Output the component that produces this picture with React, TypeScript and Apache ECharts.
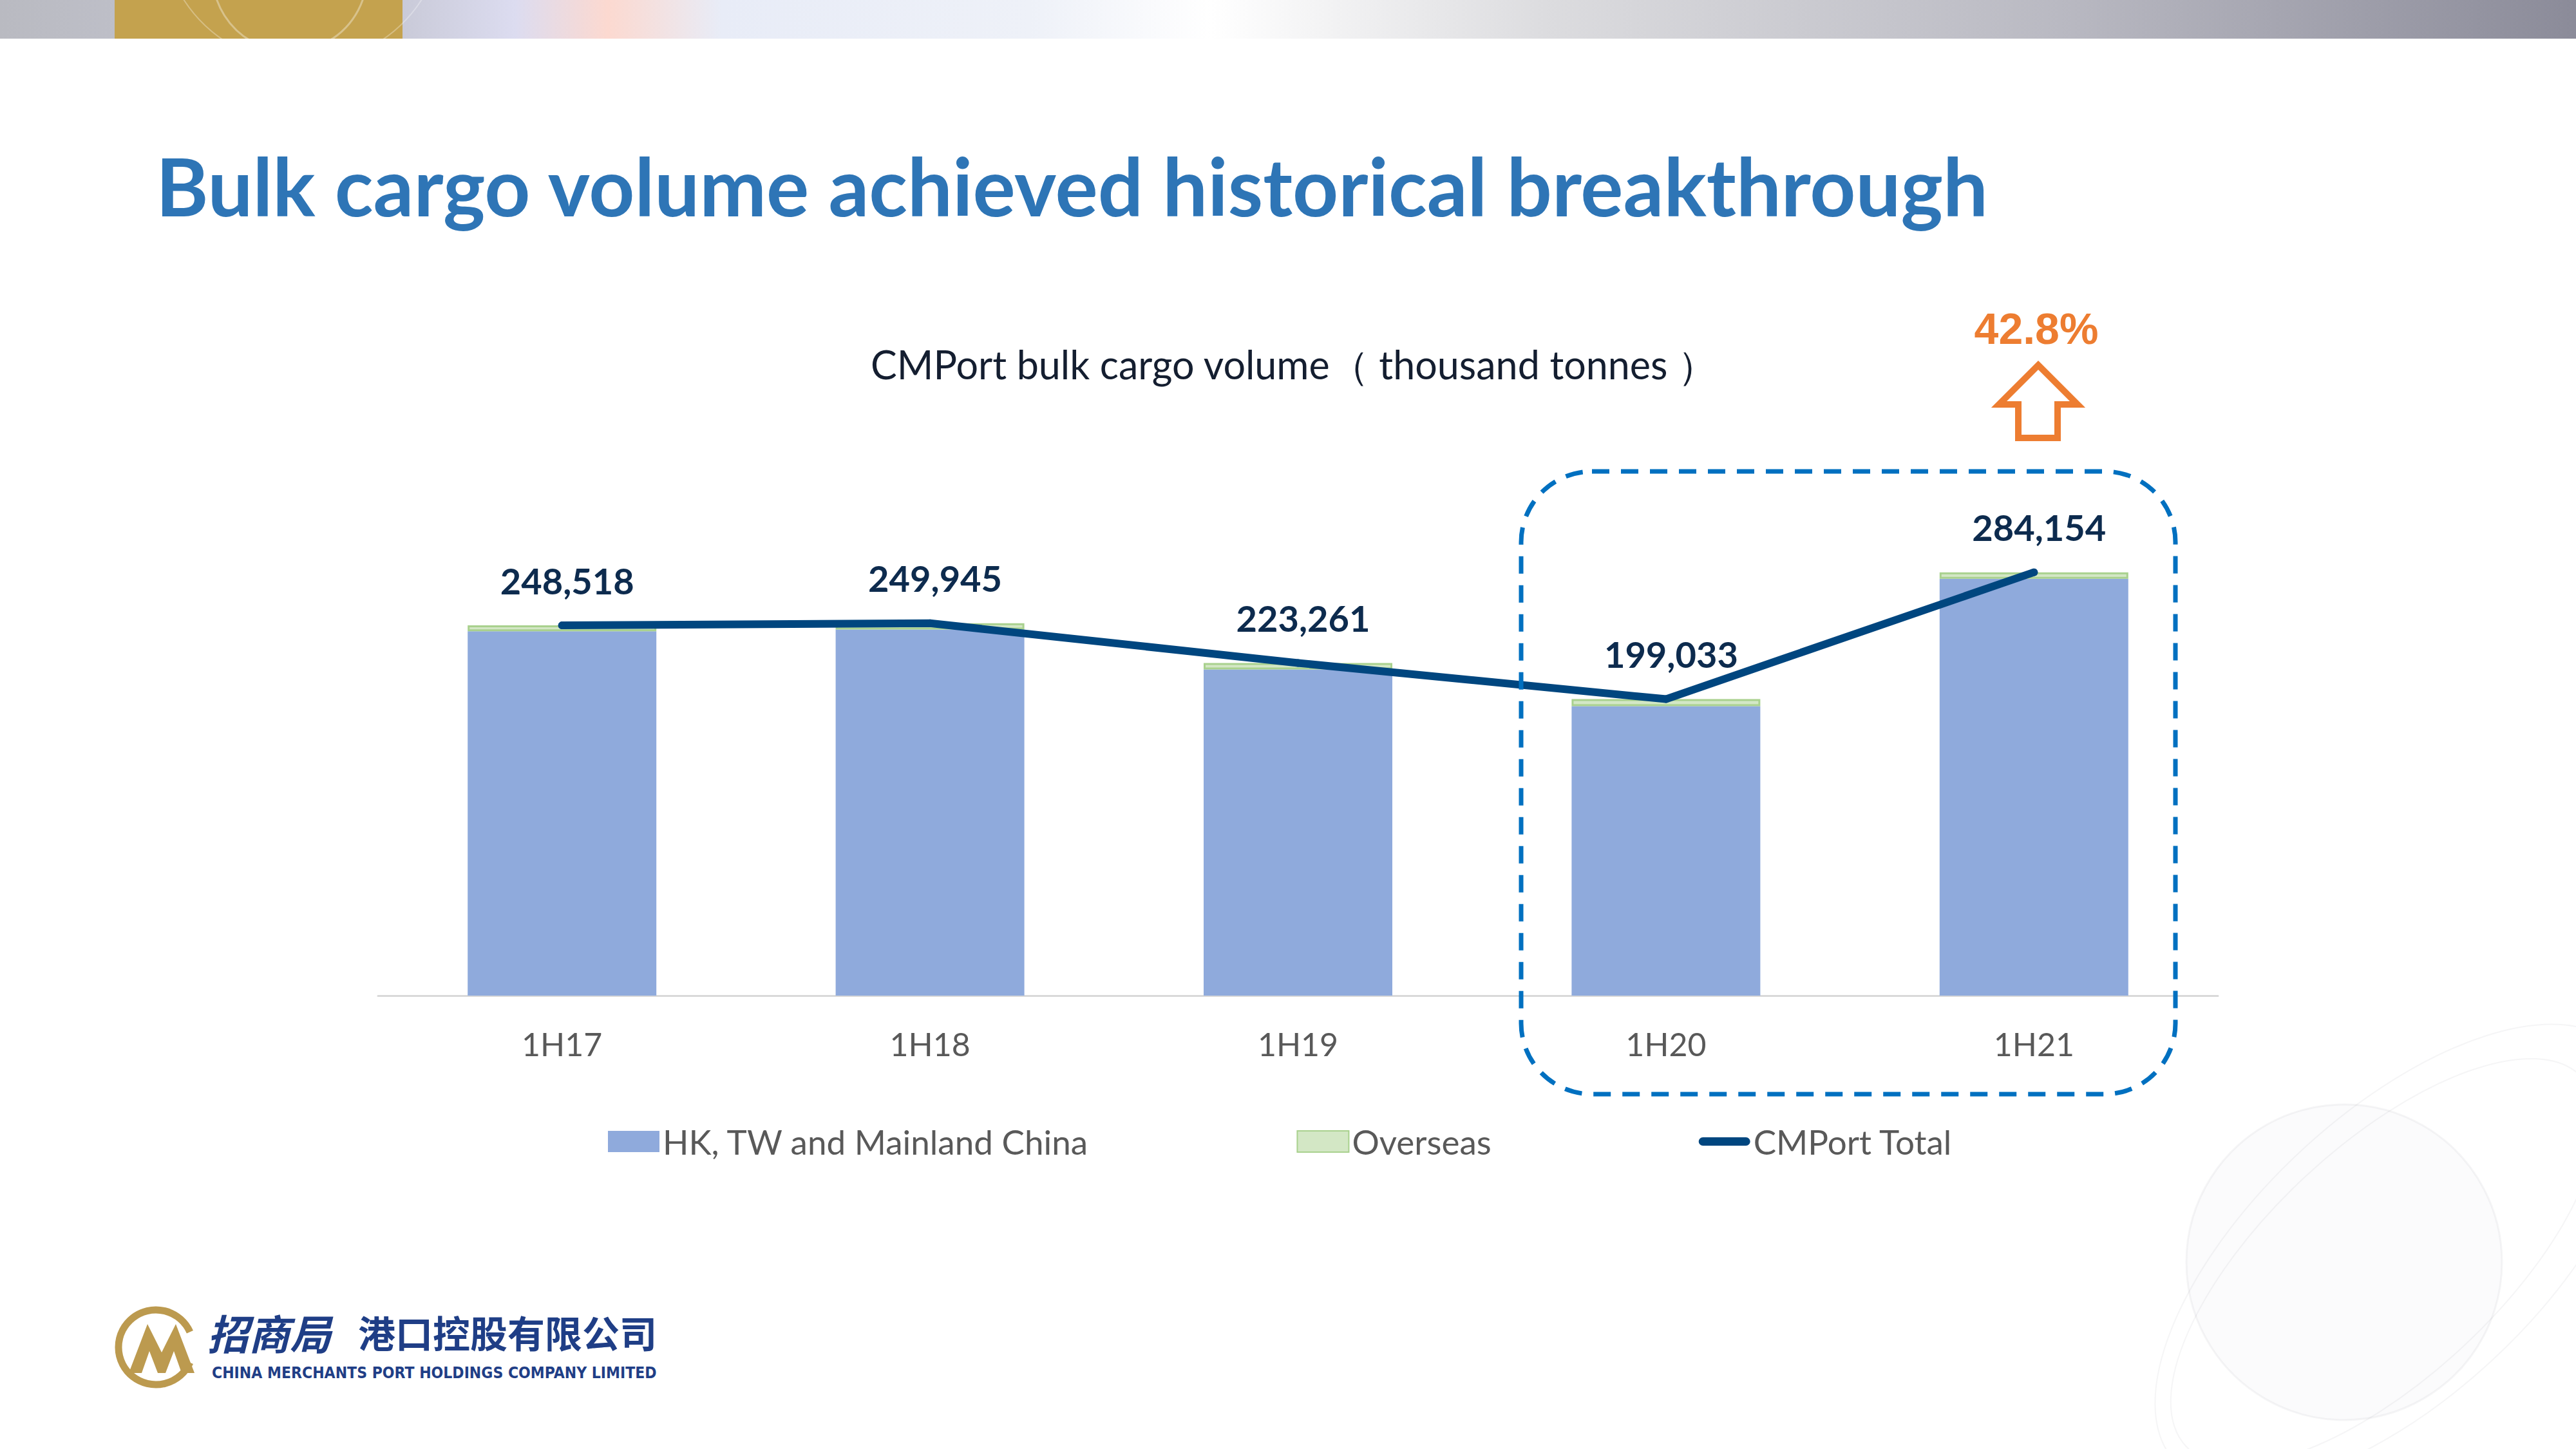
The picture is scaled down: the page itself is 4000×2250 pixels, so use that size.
import React, { useEffect, useRef } from 'react';
import * as echarts from 'echarts';

const categories = ['1H17', '1H18', '1H19', '1H20', '1H21'];
const hkTwMainland = [244518, 245745, 218961, 194333, 279754];
const overseas = [4000, 4200, 4300, 4700, 4400];
const cmportTotal = [248518, 249945, 223261, 199033, 284154];
const seriesNames = ['HK, TW and Mainland China', 'Overseas', 'CMPort Total'];
const growthLabel = '42.8%';
const yAxisMax = 300000;

const mainTitle = 'Bulk cargo volume achieved historical breakthrough';
const subTitle = 'CMPort bulk cargo volume（ thousand tonnes ）';
const logoCn1 = '招商局';
const logoCn2 = '港口控股有限公司';
const logoEn = 'CHINA MERCHANTS PORT HOLDINGS COMPANY LIMITED';

export default function App() {
  const ref = useRef<HTMLDivElement>(null);
  useEffect(() => {
    if (!ref.current) return;
    const chart = echarts.init(ref.current, undefined, { renderer: 'svg' });
    const fmt = (v: number) => v.toLocaleString('en-US');
    const globeStroke = 'rgba(120,120,130,0.07)';
    const option: any = {
      animation: false,
      backgroundColor: '#ffffff',
      title: [
        {
          text: mainTitle,
          left: 242,
          top: 226,
          padding: 0,
          textStyle: { fontFamily: 'Lato', fontWeight: 'bold', fontSize: 124, lineHeight: 124, color: '#2E75B6' },
        },
        {
          text: subTitle,
          left: 1352,
          top: 535,
          padding: 0,
          textStyle: { fontFamily: 'Lato', fontWeight: 'normal', fontSize: 61, lineHeight: 61, color: '#141E30' },
        },
      ],
      grid: { left: 587, right: 556, top: 852, bottom: 704, containLabel: false },
      legend: {
        left: 939,
        top: 1741,
        itemGap: 322,
        itemWidth: 80,
        itemHeight: 33,
        textStyle: { fontFamily: 'Lato', fontSize: 53, color: '#595959', padding: [0, 0, 0, 0] },
        data: [
          { name: seriesNames[0], icon: 'rect' },
          { name: seriesNames[1], icon: 'rect' },
          { name: seriesNames[2], icon: 'path://M7,0 H79 A7,7 0 0 1 79,14 H7 A7,7 0 0 1 7,0 Z' },
        ],
      },
      xAxis: {
        type: 'category',
        data: categories,
        axisLine: { show: true, lineStyle: { color: '#D9D9D9', width: 3 } },
        axisTick: { show: false },
        axisLabel: { fontFamily: 'Lato', fontSize: 50, color: '#595959', margin: 50 },
      },
      yAxis: { type: 'value', min: 0, max: yAxisMax, show: false, splitLine: { show: false } },
      series: [
        {
          name: seriesNames[0],
          type: 'bar',
          stack: 'vol',
          barWidth: 293,
          data: hkTwMainland,
          itemStyle: { color: '#8FAADC' },
        },
        {
          name: seriesNames[1],
          type: 'bar',
          stack: 'vol',
          barWidth: 293,
          data: overseas,
          itemStyle: { color: '#D3E7C5', borderColor: '#A9D18E', borderWidth: 3 },
        },
        {
          name: seriesNames[2],
          type: 'line',
          data: cmportTotal,
          z: 5,
          symbol: 'circle',
          symbolSize: 12,
          color: '#00467F',
          itemStyle: { color: '#00467F' },
          lineStyle: { color: '#00467F', width: 12, cap: 'round', join: 'round' },
          label: {
            show: true,
            position: 'top',
            distance: 36,
            offset: [8, 0],
            formatter: (p: any) => fmt(p.value),
            fontFamily: 'Lato',
            fontWeight: 'bold',
            fontSize: 56,
            color: '#0D2B4E',
          },
        },
      ],
      graphic: [
        // top banner
        {
          type: 'rect',
          shape: { x: 0, y: 0, width: 4000, height: 60 },
          style: {
            fill: new echarts.graphic.LinearGradient(0, 0, 1, 0, [
              { offset: 0, color: '#B9BAC1' },
              { offset: 0.156, color: '#C9CAD8' },
              { offset: 0.2, color: '#DCDCF0' },
              { offset: 0.236, color: '#FCD9D0' },
              { offset: 0.28, color: '#E8ECF7' },
              { offset: 0.4, color: '#EEF1F8' },
              { offset: 0.47, color: '#FFFFFF' },
              { offset: 0.6, color: '#DCDCDF' },
              { offset: 0.8, color: '#B9B9C2' },
              { offset: 1, color: '#8B8B99' },
            ]),
          },
          silent: true,
        },
        {
          type: 'rect',
          shape: { x: 178, y: 0, width: 447, height: 60 },
          style: { fill: '#C4A24E' },
          silent: true,
        },
        {
          type: 'circle',
          shape: { cx: 450, cy: -40, r: 120 },
          style: { fill: 'none', stroke: 'rgba(255,255,255,0.35)', lineWidth: 3 },
          silent: true,
        },
        {
          type: 'circle',
          shape: { cx: 470, cy: -120, r: 220 },
          style: { fill: 'none', stroke: 'rgba(255,255,255,0.3)', lineWidth: 2 },
          silent: true,
        },
        // dashed highlight box
        {
          type: 'rect',
          shape: { x: 2362, y: 732, width: 1016, height: 967, r: 110 },
          style: { fill: 'none', stroke: '#0070C0', lineWidth: 7, lineDash: [27, 18] },
          silent: true,
          z: 10,
        },
        // growth arrow
        {
          type: 'polygon',
          shape: {
            points: [
              [3165, 567],
              [3226, 628],
              [3195, 628],
              [3195, 680],
              [3134, 680],
              [3134, 628],
              [3104, 628],
            ],
          },
          style: { fill: '#ffffff', stroke: '#ED7D31', lineWidth: 10, lineJoin: 'miter' },
          silent: true,
          z: 10,
        },
        {
          type: 'text',
          x: 3162,
          y: 510,
          style: {
            text: growthLabel,
            fill: '#ED7D31',
            fontFamily: 'Liberation Sans',
            fontWeight: 'bold',
            fontSize: 68,
            align: 'center',
            verticalAlign: 'middle',
          },
          z: 10,
        },
        // globe decoration
        {
          type: 'circle',
          shape: { cx: 3640, cy: 1960, r: 245 },
          style: { fill: 'rgba(140,140,150,0.03)', stroke: globeStroke, lineWidth: 3 },
          silent: true,
        },
        {
          type: 'ellipse',
          shape: { cx: 3700, cy: 1960, rx: 420, ry: 180 },
          rotation: 0.75,
          originX: 3700,
          originY: 1960,
          style: { fill: 'none', stroke: globeStroke, lineWidth: 2 },
          silent: true,
        },
        {
          type: 'ellipse',
          shape: { cx: 3720, cy: 1950, rx: 470, ry: 220 },
          rotation: 0.75,
          originX: 3720,
          originY: 1950,
          style: { fill: 'none', stroke: globeStroke, lineWidth: 2 },
          silent: true,
        },
        // logo
        {
          type: 'arc',
          shape: { cx: 242, cy: 2092, r: 58, startAngle: 0.42, endAngle: Math.PI * 2 - 0.42, clockwise: true },
          style: { fill: 'none', stroke: '#BC9A4F', lineWidth: 11 },
          silent: true,
        },
        {
          type: 'polygon',
          shape: {
            points: [
              [200, 2132], [229, 2056], [251, 2100], [273, 2056], [302, 2132],
              [282, 2132], [270, 2098], [257, 2132], [245, 2132], [232, 2098], [220, 2132],
            ],
          },
          style: { fill: '#BC9A4F' },
          silent: true,
        },
        {
          type: 'text',
          x: 322,
          y: 2068,
          style: {
            text: logoCn1,
            fill: '#1F3E86',
            fontFamily: 'Noto Sans CJK SC',
            fontWeight: 'bold',
            fontStyle: 'italic',
            fontSize: 64,
            lineHeight: 64,
            align: 'left',
            verticalAlign: 'middle',
          },
        },
        {
          type: 'text',
          x: 556,
          y: 2068,
          style: {
            text: logoCn2,
            fill: '#1F3E86',
            fontFamily: 'Noto Sans CJK SC',
            fontWeight: 'bold',
            fontSize: 58,
            lineHeight: 58,
            align: 'left',
            verticalAlign: 'middle',
          },
        },
        {
          type: 'text',
          x: 329,
          y: 2131,
          style: {
            text: logoEn,
            fill: '#1F3E86',
            fontFamily: "'DejaVu Sans Condensed', Lato",
            fontWeight: 'bold',
            fontSize: 24.5,
            lineHeight: 24,
            align: 'left',
            verticalAlign: 'middle',
          },
        },
      ],
    };
    chart.setOption(option);
    return () => chart.dispose();
  }, []);
  return (
    <div
      ref={ref}
      style={{ position: 'fixed', left: 0, top: 0, width: 4000, height: 2250, background: '#fff' }}
    />
  );
}
